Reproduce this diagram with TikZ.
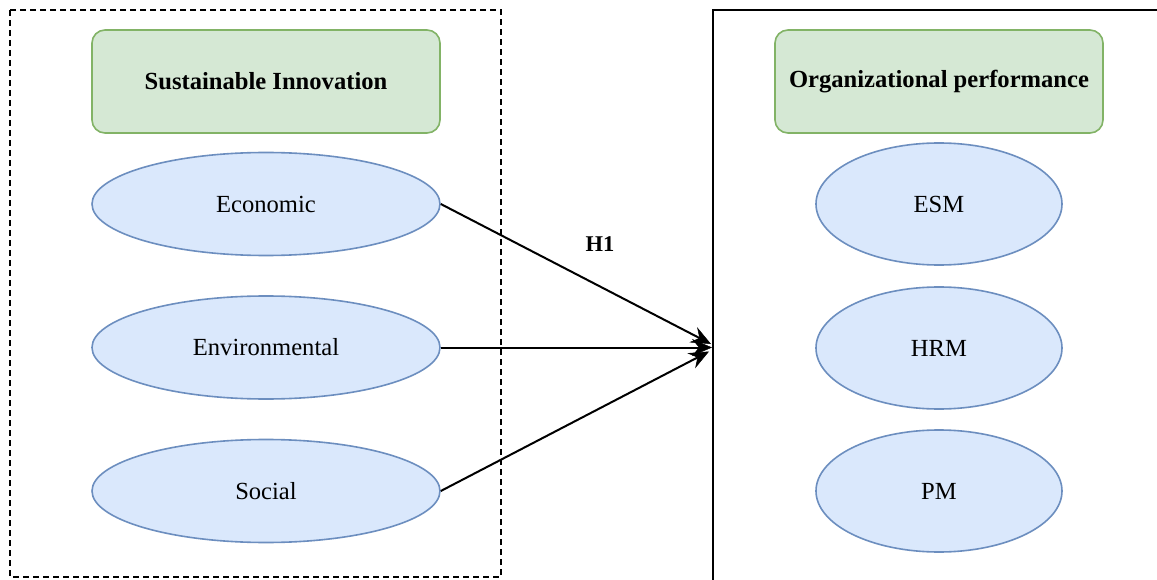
\documentclass[tikz,border=0pt]{standalone}
\usepackage{fontspec}
\setmainfont{Liberation Serif}
\usetikzlibrary{shapes.geometric,arrows.meta}
\definecolor{grfill}{HTML}{D5E8D4}
\definecolor{grline}{HTML}{82B366}
\definecolor{blfill}{HTML}{DAE8FC}
\definecolor{blline}{HTML}{6C8EBF}
\tikzset{
  headbox/.style={draw=grline, fill=grfill, line width=1.6pt, rounded corners=13pt,
    minimum width=#1, minimum height=103pt, inner sep=0pt,
    font=\fontsize{24.6}{29}\selectfont\bfseries},
  leftoval/.style={ellipse, draw=blline, fill=blfill, line width=1.6pt,
    minimum width=348pt, minimum height=103pt, inner sep=0pt,
    font=\fontsize{24.6}{29}\selectfont},
  rightoval/.style={ellipse, draw=blline, fill=blfill, line width=1.6pt,
    minimum width=246pt, minimum height=122pt, inner sep=0pt,
    font=\fontsize{24.6}{29}\selectfont},
  link/.style={draw=black, line width=2pt,
    -{Stealth[length=20pt, width=17pt, inset=7pt, line width=0.5pt]}},
}
\begin{document}
\begin{tikzpicture}[x=1pt, y=-1pt]
  \clip (0,0) rectangle (1157,580);
  \fill[white] (0,0) rectangle (1157,580);

  % group frames
  \draw[line width=2pt, dash pattern=on 6pt off 4pt] (10,10) rectangle (501,577);
  \draw[line width=2pt] (713,10) rectangle (1180,600);

  % headers
  \node[headbox=348pt] (si) at (266,81.5) {Sustainable Innovation};
  \node[headbox=328pt] (op) at (939,81.5) {Organizational performance};

  % dimensions of sustainable innovation
  \node[leftoval] (eco) at (266,204) {Economic};
  \node[leftoval] (env) at (266,347.5) {Environmental};
  \node[leftoval] (soc) at (266,491) {Social};

  % dimensions of organizational performance
  \node[rightoval] (esm) at (939,204) {ESM};
  \node[rightoval] (hrm) at (939,348) {HRM};
  \node[rightoval] (pm)  at (939,491) {PM};

  % hypothesis paths, ending on the performance frame
  \coordinate (tgtA) at (711,344);
  \coordinate (tgtB) at (712,347.5);
  \coordinate (tgtC) at (709,351.5);
  \draw[link] (eco.east) -- (tgtA);
  \draw[link] (env.east) -- (tgtB);
  \draw[link] (soc.east) -- (tgtC);
  \node[font=\fontsize{22.5}{26}\selectfont\bfseries] (h1) at (600,244) {H1};
\end{tikzpicture}
\end{document}
